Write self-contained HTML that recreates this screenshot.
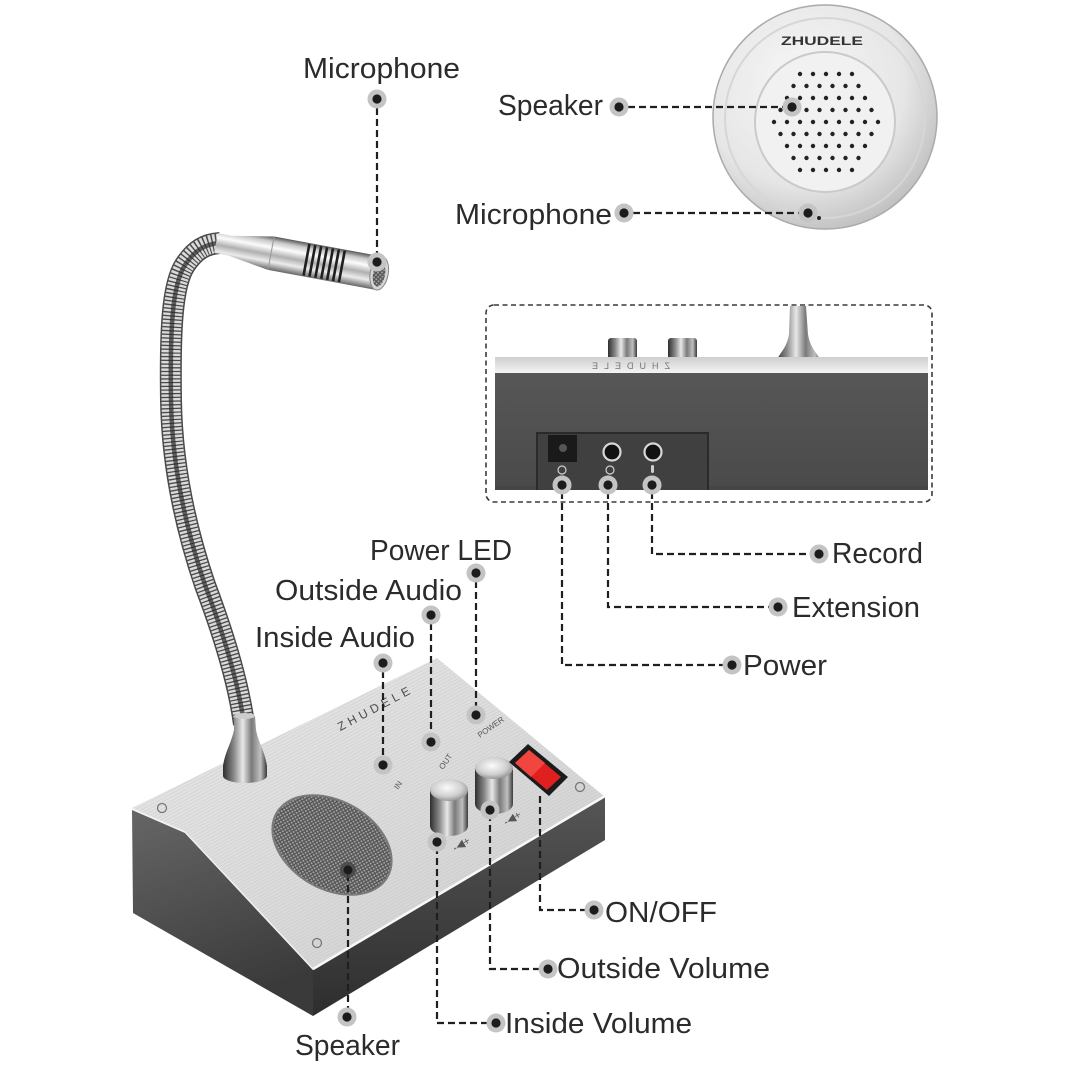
<!DOCTYPE html>
<html><head><meta charset="utf-8"><style>
html,body{margin:0;padding:0;background:#fff;}
svg{display:block}
.lb{font-family:"Liberation Sans",sans-serif;font-size:29px;fill:#2b2b2b}
.sm{font-family:"Liberation Sans",sans-serif;fill:#555}
</style></head><body>
<svg width="1066" height="1066" viewBox="0 0 1066 1066" xmlns="http://www.w3.org/2000/svg">
<defs>
 <linearGradient id="chV" x1="0" y1="0" x2="0" y2="1">
  <stop offset="0" stop-color="#555"/><stop offset="0.15" stop-color="#c8c8c8"/>
  <stop offset="0.33" stop-color="#fcfcfc"/><stop offset="0.55" stop-color="#b0b0b0"/>
  <stop offset="0.75" stop-color="#ececec"/><stop offset="1" stop-color="#666"/>
 </linearGradient>
 <linearGradient id="chH" x1="0" y1="0" x2="1" y2="0">
  <stop offset="0" stop-color="#3e3e3e"/><stop offset="0.2" stop-color="#aaaaaa"/>
  <stop offset="0.42" stop-color="#f6f6f6"/><stop offset="0.62" stop-color="#9a9a9a"/>
  <stop offset="0.82" stop-color="#dcdcdc"/><stop offset="1" stop-color="#505050"/>
 </linearGradient>
 <linearGradient id="chD" x1="0" y1="0" x2="1" y2="0">
  <stop offset="0" stop-color="#2e2e2e"/><stop offset="0.25" stop-color="#8a8a8a"/>
  <stop offset="0.45" stop-color="#e8e8e8"/><stop offset="0.65" stop-color="#7a7a7a"/>
  <stop offset="0.85" stop-color="#c0c0c0"/><stop offset="1" stop-color="#3a3a3a"/>
 </linearGradient>
 <radialGradient id="knobTop" cx="0.45" cy="0.4" r="0.65">
  <stop offset="0" stop-color="#fbfbfb"/><stop offset="0.6" stop-color="#d0d0d0"/><stop offset="1" stop-color="#8a8a8a"/>
 </radialGradient>
 <linearGradient id="leftF" x1="0" y1="0" x2="0.3" y2="1">
  <stop offset="0" stop-color="#666"/><stop offset="1" stop-color="#3a3a3a"/>
 </linearGradient>
 <linearGradient id="frontF" x1="0" y1="0" x2="0" y2="1">
  <stop offset="0" stop-color="#555"/><stop offset="1" stop-color="#2e2e2e"/>
 </linearGradient>
 <linearGradient id="topF" x1="0" y1="0" x2="1" y2="1">
  <stop offset="0" stop-color="#e8e8e8"/><stop offset="0.5" stop-color="#dcdcdc"/><stop offset="1" stop-color="#cdcdcd"/>
 </linearGradient>
 <pattern id="brush" width="8" height="3" patternUnits="userSpaceOnUse" patternTransform="rotate(-28)">
  <rect y="1" width="8" height="0.6" fill="#b8b8b8" opacity="0.45"/>
 </pattern>
 <pattern id="mesh" width="3" height="3" patternUnits="userSpaceOnUse" patternTransform="rotate(30)">
  <rect width="3" height="3" fill="#555"/><circle cx="1.5" cy="1.5" r="0.95" fill="#a8a8a8"/>
 </pattern>
 <radialGradient id="disc" cx="0.4" cy="0.35" r="0.7">
  <stop offset="0" stop-color="#f7f7f7"/><stop offset="0.65" stop-color="#e6e6e6"/><stop offset="1" stop-color="#bdbdbd"/>
 </radialGradient>
 <linearGradient id="strip" x1="0" y1="0" x2="0" y2="1">
  <stop offset="0" stop-color="#cfcfcf"/><stop offset="0.6" stop-color="#e6e6e6"/><stop offset="1" stop-color="#f7f7f7"/>
 </linearGradient>
 <linearGradient id="body" x1="0" y1="0" x2="0" y2="1">
  <stop offset="0" stop-color="#575757"/><stop offset="1" stop-color="#4a4a4a"/>
 </linearGradient>
 <g id="dot"><circle r="9.5" fill="#c4c4c4"/><circle r="4.6" fill="#1c1c1c"/></g>
</defs>

<!-- ===== Round speaker (top right) ===== -->
<circle cx="825" cy="117" r="112" fill="url(#disc)" stroke="#aaa" stroke-width="1.5"/>
<circle cx="825" cy="118" r="100" fill="none" stroke="#d6d6d6" stroke-width="2"/>
<circle cx="825" cy="122" r="70" fill="#f1f1f1" stroke="#cacaca" stroke-width="2"/>
<text x="781" y="45" class="sm" font-size="11.5" font-weight="bold" textLength="82" lengthAdjust="spacingAndGlyphs" style="fill:#333">ZHUDELE</text>
<g fill="#222">
 <circle cx="800" cy="74" r="2.2"/><circle cx="813" cy="74" r="2.2"/><circle cx="826" cy="74" r="2.2"/><circle cx="839" cy="74" r="2.2"/><circle cx="852" cy="74" r="2.2"/>
 <circle cx="793.5" cy="86" r="2.2"/><circle cx="806.5" cy="86" r="2.2"/><circle cx="819.5" cy="86" r="2.2"/><circle cx="832.5" cy="86" r="2.2"/><circle cx="845.5" cy="86" r="2.2"/><circle cx="858.5" cy="86" r="2.2"/>
 <circle cx="787" cy="98" r="2.2"/><circle cx="800" cy="98" r="2.2"/><circle cx="813" cy="98" r="2.2"/><circle cx="826" cy="98" r="2.2"/><circle cx="839" cy="98" r="2.2"/><circle cx="852" cy="98" r="2.2"/><circle cx="865" cy="98" r="2.2"/>
 <circle cx="780.5" cy="110" r="2.2"/><circle cx="806.5" cy="110" r="2.2"/><circle cx="819.5" cy="110" r="2.2"/><circle cx="832.5" cy="110" r="2.2"/><circle cx="845.5" cy="110" r="2.2"/><circle cx="858.5" cy="110" r="2.2"/><circle cx="871.5" cy="110" r="2.2"/>
 <circle cx="774" cy="122" r="2.2"/><circle cx="787" cy="122" r="2.2"/><circle cx="800" cy="122" r="2.2"/><circle cx="813" cy="122" r="2.2"/><circle cx="826" cy="122" r="2.2"/><circle cx="839" cy="122" r="2.2"/><circle cx="852" cy="122" r="2.2"/><circle cx="865" cy="122" r="2.2"/><circle cx="878" cy="122" r="2.2"/>
 <circle cx="780.5" cy="134" r="2.2"/><circle cx="793.5" cy="134" r="2.2"/><circle cx="806.5" cy="134" r="2.2"/><circle cx="819.5" cy="134" r="2.2"/><circle cx="832.5" cy="134" r="2.2"/><circle cx="845.5" cy="134" r="2.2"/><circle cx="858.5" cy="134" r="2.2"/><circle cx="871.5" cy="134" r="2.2"/>
 <circle cx="787" cy="146" r="2.2"/><circle cx="800" cy="146" r="2.2"/><circle cx="813" cy="146" r="2.2"/><circle cx="826" cy="146" r="2.2"/><circle cx="839" cy="146" r="2.2"/><circle cx="852" cy="146" r="2.2"/><circle cx="865" cy="146" r="2.2"/>
 <circle cx="793.5" cy="158" r="2.2"/><circle cx="806.5" cy="158" r="2.2"/><circle cx="819.5" cy="158" r="2.2"/><circle cx="832.5" cy="158" r="2.2"/><circle cx="845.5" cy="158" r="2.2"/><circle cx="858.5" cy="158" r="2.2"/>
 <circle cx="800" cy="170" r="2.2"/><circle cx="813" cy="170" r="2.2"/><circle cx="826" cy="170" r="2.2"/><circle cx="839" cy="170" r="2.2"/><circle cx="852" cy="170" r="2.2"/>
 <circle cx="819" cy="218" r="2"/>
</g>

<!-- ===== Back view (dashed box) ===== -->
<rect x="486" y="305" width="446" height="197" rx="8" fill="none" stroke="#3a3a3a" stroke-width="1.6" stroke-dasharray="5 3.5"/>
<rect x="608" y="338" width="29" height="22" rx="3" fill="url(#chD)"/>
<rect x="668" y="338" width="29" height="22" rx="3" fill="url(#chD)"/>
<path d="M790,306 L806,306 L808,334 C810,349 819,354 822,364 L775,364 C778,354 787,349 789,334 Z" fill="url(#chD)"/>
<rect x="495" y="357" width="433" height="17" fill="url(#strip)"/>
<text x="540" y="369" class="sm" font-size="9" transform="translate(1210,0) scale(-1,1)" style="fill:#777" letter-spacing="6">ZHUDELE</text>
<rect x="495" y="373" width="433" height="116" fill="url(#body)"/>
<rect x="495" y="486" width="433" height="4" fill="#454545"/>
<rect x="537" y="433" width="171" height="57" fill="#404040"/>
<path d="M537,490 V433 H708 V490" fill="none" stroke="#2a2a2a" stroke-width="2"/>
<rect x="548" y="435" width="29" height="27" fill="#1a1a1a"/>
<circle cx="563" cy="448" r="4" fill="#555"/>
<circle cx="612" cy="452" r="8.5" fill="#111" stroke="#d8d8d8" stroke-width="2.2"/>
<circle cx="653" cy="452" r="8.5" fill="#111" stroke="#d8d8d8" stroke-width="2.2"/>
<circle cx="562" cy="470" r="4" fill="none" stroke="#cfcfcf" stroke-width="1.2"/>
<circle cx="610" cy="470" r="4" fill="none" stroke="#cfcfcf" stroke-width="1.2"/>
<rect x="651" y="465" width="3" height="8" rx="1.5" fill="#cfcfcf"/>

<!-- ===== Front device body ===== -->
<path d="M132,810 L185,833 L313,970 L313,1016 L133,913 Z" fill="url(#leftF)"/>
<path d="M313,970 L605,797 L605,840 L313,1016 Z" fill="url(#frontF)"/>
<path d="M132,808 L437,658 L605,797 L313,970 L185,832 Z" fill="url(#topF)"/>
<path d="M132,808 L437,658 L605,797 L313,970 L185,832 Z" fill="url(#brush)"/>
<path d="M313,969 L605,796" stroke="#f8f8f8" stroke-width="2.5"/>
<path d="M133,809 L185,832 L313,969" stroke="#f0f0f0" stroke-width="1.5" fill="none"/>
<g fill="none" stroke="#777" stroke-width="1.3">
 <circle cx="162" cy="808" r="4.5"/><circle cx="317" cy="943" r="4.5"/><circle cx="580" cy="787" r="4.5"/>
</g>
<ellipse cx="332" cy="845" rx="64" ry="44" transform="rotate(30 332 845)" fill="url(#mesh)" stroke="#7a7a7a" stroke-width="2"/>
<text x="375" y="712" class="sm" font-size="12" letter-spacing="4" text-anchor="middle" transform="rotate(-28 375 707)" style="fill:#4a4a4a">ZHUDELE</text>
<text x="398" y="790" class="sm" font-size="8" transform="rotate(-55 398 790)">IN</text>
<text x="443" y="770" class="sm" font-size="8" transform="rotate(-55 443 770)">OUT</text>
<text x="480" y="738" class="sm" font-size="8" transform="rotate(-35 480 738)">POWER</text>
<text x="455" y="852" class="sm" font-size="11" transform="rotate(-30 455 852)">-◀+</text>
<text x="506" y="826" class="sm" font-size="11" transform="rotate(-30 506 826)">-◀+</text>
<!-- knobs -->
<g>
 <path d="M430,790 L430,826 A19,10 0 0 0 468,826 L468,790 Z" fill="url(#chD)"/>
 <ellipse cx="449" cy="790" rx="19" ry="11" fill="url(#knobTop)"/>
 <path d="M475,768 L475,804 A19,10 0 0 0 513,804 L513,768 Z" fill="url(#chD)"/>
 <ellipse cx="494" cy="768" rx="19" ry="11" fill="url(#knobTop)"/>
</g>
<!-- switch -->
<path d="M528,744 L568,777 L549,796 L509,762 Z" fill="#1b1b1b"/>
<path d="M529,750 L561,777 L547,790 L515,763 Z" fill="#e01f1f"/>
<path d="M529,750 L545,763 L531,777 L515,763 Z" fill="#f0463f"/>
<!-- gooseneck -->
<g fill="none" stroke-linecap="butt">
 <path d="M244,724 C238,680 222,630 205,585 C188,535 172,470 171,400 C170,330 172,285 185,265 C195,250 205,244 220,243" stroke="#4a4a4a" stroke-width="22"/>
 <path d="M244,724 C238,680 222,630 205,585 C188,535 172,470 171,400 C170,330 172,285 185,265 C195,250 205,244 220,243" stroke="#dadada" stroke-width="19" stroke-dasharray="2.4 1.3"/>
 <path d="M244,724 C238,680 222,630 205,585 C188,535 172,470 171,400 C170,330 172,285 185,265 C195,250 205,244 220,243" stroke="#2a2a2a" stroke-width="4.5" opacity="0.7"/>
</g>
<!-- gooseneck base -->
<path d="M234,716 L255,716 L256,730 C259,744 265,752 267,766 L267,776 A22,7 0 0 1 223,776 L223,766 C225,752 231,744 234,730 Z" fill="url(#chD)"/>
<ellipse cx="244.5" cy="716" rx="10.5" ry="3" fill="#ccc"/>
<!-- mic head -->
<g transform="translate(216,243) rotate(10.5)">
 <path d="M0,-10 L14,-10 L56,-17 L56,17 L14,10 L0,10 Z" fill="url(#chV)"/>
 <rect x="56" y="-17" width="110" height="34" fill="url(#chV)"/>
 <line x1="56" y1="-17" x2="56" y2="17" stroke="#999" stroke-width="1"/>
 <g stroke="#1e1e1e" stroke-width="2.6">
  <line x1="92" y1="-16" x2="92" y2="16"/><line x1="98" y1="-16" x2="98" y2="16"/><line x1="104" y1="-16" x2="104" y2="16"/>
  <line x1="110" y1="-16" x2="110" y2="16"/><line x1="116" y1="-16" x2="116" y2="16"/><line x1="122" y1="-16" x2="122" y2="16"/><line x1="128" y1="-16" x2="128" y2="16"/>
 </g>
 <ellipse cx="166" cy="0" rx="9" ry="17" fill="#d6d6d6" stroke="#888" stroke-width="1"/>
 <ellipse cx="166" cy="1" rx="6" ry="12.5" fill="url(#mesh)"/>
</g>

<!-- ===== Leader lines ===== -->
<g fill="none" stroke="#1f1f1f" stroke-width="2.2" stroke-dasharray="7 4">
 <path d="M377,108 V258"/>
 <path d="M628,107 H788"/>
 <path d="M633,213 H804"/>
 <path d="M652,492 V554 H812"/>
 <path d="M608,492 V607 H770"/>
 <path d="M562,492 V665 H725"/>
 <path d="M476,581 V712"/>
 <path d="M431,623 V739"/>
 <path d="M383,671 V762"/>
 <path d="M540,796 V910 H587"/>
 <path d="M490,814 V969 H541"/>
 <path d="M437,847 V1023 H489"/>
 <path d="M348,874 V1010"/>
</g>

<!-- ===== Dots ===== -->
<use href="#dot" x="377" y="99"/>
<use href="#dot" x="377" y="262"/>
<use href="#dot" x="619" y="107"/>
<use href="#dot" x="792" y="107"/>
<use href="#dot" x="624" y="213"/>
<use href="#dot" x="808" y="213"/>
<use href="#dot" x="562" y="485"/>
<use href="#dot" x="608" y="485"/>
<use href="#dot" x="652" y="485"/>
<use href="#dot" x="819" y="554"/>
<use href="#dot" x="778" y="607"/>
<use href="#dot" x="732" y="665"/>
<use href="#dot" x="476" y="573"/>
<use href="#dot" x="431" y="615"/>
<use href="#dot" x="383" y="663"/>
<use href="#dot" x="476" y="715"/>
<use href="#dot" x="431" y="742"/>
<use href="#dot" x="383" y="765"/>
<use href="#dot" x="437" y="842"/>
<use href="#dot" x="490" y="810"/>
<use href="#dot" x="594" y="910"/>
<use href="#dot" x="548" y="969"/>
<use href="#dot" x="496" y="1023"/>
<circle cx="348" cy="870" r="8" fill="#444" opacity="0.8"/><circle cx="348" cy="870" r="4.5" fill="#1c1c1c"/>
<use href="#dot" x="347" y="1017"/>

<!-- ===== Labels ===== -->
<text class="lb" x="303" y="78" textLength="157" lengthAdjust="spacingAndGlyphs">Microphone</text>
<text class="lb" x="498" y="115" textLength="105" lengthAdjust="spacingAndGlyphs">Speaker</text>
<text class="lb" x="455" y="224" textLength="157" lengthAdjust="spacingAndGlyphs">Microphone</text>
<text class="lb" x="832" y="563" textLength="91" lengthAdjust="spacingAndGlyphs">Record</text>
<text class="lb" x="792" y="617" textLength="128" lengthAdjust="spacingAndGlyphs">Extension</text>
<text class="lb" x="743" y="675" textLength="84" lengthAdjust="spacingAndGlyphs">Power</text>
<text class="lb" x="370" y="560" textLength="142" lengthAdjust="spacingAndGlyphs">Power LED</text>
<text class="lb" x="275" y="600" textLength="187" lengthAdjust="spacingAndGlyphs">Outside Audio</text>
<text class="lb" x="255" y="647" textLength="160" lengthAdjust="spacingAndGlyphs">Inside Audio</text>
<text class="lb" x="605" y="922" textLength="112" lengthAdjust="spacingAndGlyphs">ON/OFF</text>
<text class="lb" x="557" y="978" textLength="213" lengthAdjust="spacingAndGlyphs">Outside Volume</text>
<text class="lb" x="505" y="1033" textLength="187" lengthAdjust="spacingAndGlyphs">Inside Volume</text>
<text class="lb" x="295" y="1055" textLength="105" lengthAdjust="spacingAndGlyphs">Speaker</text>
</svg>
</body></html>
